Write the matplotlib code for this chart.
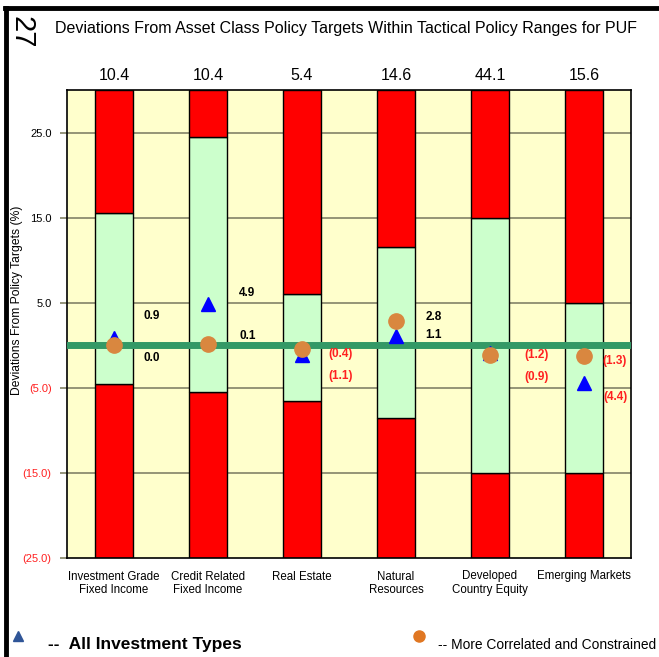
import numpy as np
import matplotlib.pyplot as plt
from matplotlib.lines import Line2D

# asset classes and policy target weights (shown above each column)
categories = ['Investment Grade\nFixed Income', 'Credit Related\nFixed Income', 'Real Estate',
              'Natural\nResources', 'Developed\nCountry Equity', 'Emerging Markets']
targets = ['10.4', '10.4', '5.4', '14.6', '44.1', '15.6']

# tactical policy range (deviation from target, %)
range_low = [-4.5, -5.5, -6.5, -8.5, -15.0, -15.0]
range_high = [15.5, 24.5, 6.0, 11.5, 15.0, 5.0]

# deviations
all_types = [0.9, 4.9, -1.1, 1.1, -0.9, -4.4]
correlated = [0.0, 0.1, -0.4, 2.8, -1.2, -1.3]

yticks = [-25, -15, -5, 5, 15, 25]
ymin, ymax = -25, 30

# hand placement of the data labels (x shift, y shift in data units)
lab_dx = [0.40, 0.42, 0.41, 0.40, 0.50, 0.33]
tri_dy = [2.5, 1.3, -2.5, 0.1, -2.85, -1.7]
circ_dy = [-1.5, 0.95, -0.65, 0.5, 0.0, -0.6]

plt.rcParams['font.family'] = ['Liberation Sans', 'DejaVu Sans']


def fmt(v):
    return f'{v:.1f}' if v >= 0 else f'({abs(v):.1f})'


fig = plt.figure(figsize=(6.59, 6.57), dpi=100)
W, H = 659, 657
ax = fig.add_axes([67 / W, (H - 558) / H, (631 - 67) / W, (558 - 90) / H])
ax.set_facecolor('#FFFFCC')

x = np.arange(len(categories)) + 0.5
bw = 0.40
lo = np.array(range_low)
hi = np.array(range_high)
ax.bar(x, lo - ymin, bw, bottom=ymin, color='#FF0000', edgecolor='black', linewidth=1, zorder=2)
ax.bar(x, hi - lo, bw, bottom=lo, color='#CCFFCC', edgecolor='black', linewidth=1, zorder=2)
ax.bar(x, ymax - hi, bw, bottom=hi, color='#FF0000', edgecolor='black', linewidth=1, zorder=2)

for yt in yticks[1:]:
    ax.axhline(yt, color='#8C8C70', linewidth=1.3, zorder=1)
ax.axhline(0, color='#339966', linewidth=5, zorder=3)

ax.plot(x, all_types, linestyle='none', marker='^', markersize=10, color='#0000FF', zorder=4)
ax.plot(x, correlated, linestyle='none', marker='o', markersize=11, color='#D9873F', zorder=5)

for i in range(len(categories)):
    for v, dy in ((all_types[i], tri_dy[i]), (correlated[i], circ_dy[i])):
        ax.text(x[i] + lab_dx[i], v + dy, fmt(v), ha='center', va='center', fontsize=8.5,
                fontweight='bold', color='black' if v >= 0 else '#FF2020', zorder=6)
    ax.text(x[i], ymax + 0.8, targets[i], ha='center', va='bottom', fontsize=11.5)

ax.set_xlim(0, 6)
ax.set_ylim(ymin, ymax)
ax.set_xticks(x)
ax.set_xticklabels(categories, fontsize=8.3, va='top')
ax.tick_params(axis='x', length=0, pad=9)
ax.set_yticks(yticks)
ax.set_yticklabels([fmt(v) for v in yticks], fontsize=8)
for lab, v in zip(ax.get_yticklabels(), yticks):
    lab.set_color('black' if v >= 0 else '#FF2020')
ax.tick_params(axis='y', length=5, color='#8C8C70', width=1.3, pad=6)
for s in ax.spines.values():
    s.set_linewidth(1.2)

fig.text(17 / W, 1 - 300 / H, 'Deviations From Policy Targets (%)', rotation=90,
         ha='center', va='center', fontsize=8.7)

# frame and page header
fig.add_artist(Line2D([5 / W, 1], [1 - 8 / H, 1 - 8 / H], color='black', linewidth=3.5))
fig.add_artist(Line2D([6 / W, 6 / W], [0, 1 - 8 / H], color='black', linewidth=3.5))
fig.text(21 / W, 1 - 32 / H, '27', rotation=270, ha='center', va='center', fontsize=21)
fig.text(55 / W, 1 - 28 / H,
         'Deviations From Asset Class Policy Targets Within Tactical Policy Ranges for PUF',
         ha='left', va='center', fontsize=11.5)

# legend drawn by hand at the bottom
fig.add_artist(Line2D([18 / W], [1 - 636 / H], marker='^', markersize=7, color='#2F5597',
                      linestyle='none'))
fig.text(48 / W, 1 - 644 / H, '--  All Investment Types', ha='left', va='center',
         fontsize=12.5, fontweight='bold')
fig.add_artist(Line2D([419 / W], [1 - 636 / H], marker='o', markersize=8, color='#E07722',
                      linestyle='none'))
fig.text(438 / W, 1 - 645 / H, '-- More Correlated and Constrained', ha='left', va='center',
         fontsize=9.9)

fig.savefig('out.png', dpi=100)
